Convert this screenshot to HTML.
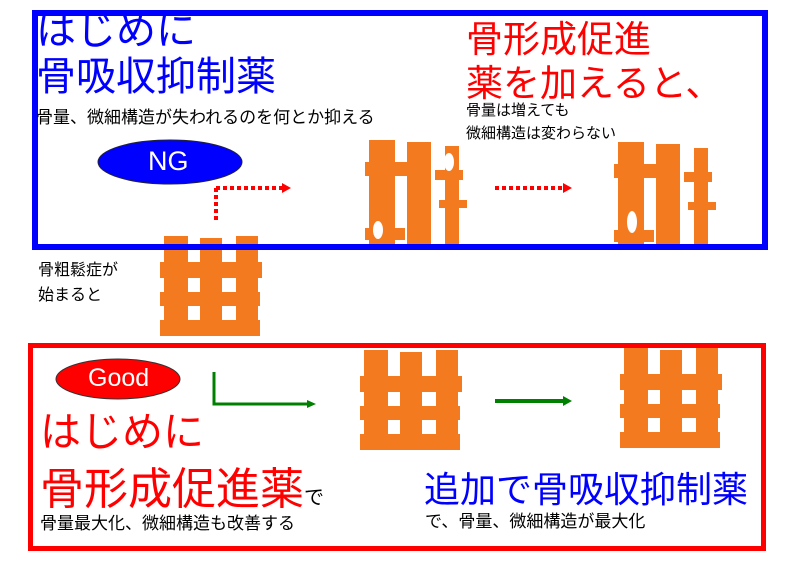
<!DOCTYPE html>
<html><head><meta charset="utf-8"><style>
html,body{margin:0;padding:0;background:#fff;}
body{width:800px;height:566px;position:relative;overflow:hidden;font-family:"Liberation Sans","Noto Sans CJK JP",sans-serif;}
.t{position:absolute;white-space:nowrap;line-height:1;}
</style></head><body>
<svg width="800" height="566" style="position:absolute;left:0;top:0">
<defs>
<g id="full">
<rect x="4" y="0" width="24" height="100" fill="#f47a20"/>
<rect x="40" y="2" width="22" height="98" fill="#f47a20"/>
<rect x="76" y="0" width="22" height="100" fill="#f47a20"/>
<rect x="0" y="26" width="102" height="16" fill="#f47a20"/>
<rect x="0" y="56" width="100" height="14" fill="#f47a20"/>
<rect x="0" y="84" width="100" height="16" fill="#f47a20"/>
</g>
<g id="broken">
<rect x="4" y="0" width="26" height="108" fill="#f47a20"/>
<rect x="42" y="2" width="24" height="106" fill="#f47a20"/>
<rect x="80" y="6" width="14" height="100" fill="#f47a20"/>
<rect x="0" y="22" width="66" height="14" fill="#f47a20"/>
<rect x="0" y="88" width="40" height="12" fill="#f47a20"/>
<rect x="70" y="30" width="28" height="10" fill="#f47a20"/>
<rect x="74" y="60" width="28" height="8" fill="#f47a20"/>
</g>
</defs>
<use href="#broken" x="365" y="140"/>
<ellipse cx="449" cy="162" rx="5" ry="9" fill="#fff"/>
<ellipse cx="378" cy="230" rx="5" ry="9" fill="#fff"/>
<use href="#broken" x="614" y="142"/>
<ellipse cx="632" cy="222" rx="5" ry="11" fill="#fff"/>
<use href="#full" x="160" y="236"/>
<use href="#full" x="360" y="350"/>
<use href="#full" x="620" y="348"/>
<rect x="35" y="13" width="730" height="234" fill="none" stroke="#0000ff" stroke-width="6"/>
<rect x="30.5" y="345.5" width="733" height="203" fill="none" stroke="#ff0000" stroke-width="5"/>
<ellipse cx="170" cy="162" rx="72" ry="22" fill="#0000ff" stroke="#223" stroke-width="1"/>
<ellipse cx="118" cy="379" rx="62" ry="20" fill="#ff0000" stroke="#333" stroke-width="1"/>
<g stroke="#ff0000" stroke-width="4" stroke-dasharray="4,3" fill="none">
<line x1="216" y1="220" x2="216" y2="188"/>
<line x1="216" y1="188" x2="282" y2="188"/>
<line x1="495" y1="188" x2="563" y2="188"/>
</g>
<polygon points="282,183 291,188 282,193" fill="#ff0000"/>
<polygon points="563,183 572,188 563,193" fill="#ff0000"/>
<polyline points="214,372 214,404 308,404" fill="none" stroke="#008000" stroke-width="3"/>
<polygon points="307,400 316,404 307,408" fill="#008000"/>
<line x1="495" y1="401" x2="564" y2="401" stroke="#008000" stroke-width="4"/>
<polygon points="563,396 572,401 563,406" fill="#008000"/>
</svg>
<div class="t" style="left:36px;top:11px;font-size:40px;color:#0000ff">はじめに</div>
<div class="t" style="left:36px;top:57px;font-size:40px;color:#0000ff">骨吸収抑制薬</div>
<div class="t" style="left:36px;top:109px;font-size:17px;color:#000">骨量、微細構造が失われるのを何とか抑える</div>
<div class="t" style="left:148px;top:148px;font-size:27px;color:#fff">NG</div>
<div class="t" style="left:466px;top:21px;font-size:37px;color:#ff0000">骨形成促進</div>
<div class="t" style="left:466px;top:65px;font-size:37px;color:#ff0000">薬を加えると、</div>
<div class="t" style="left:466px;top:103px;font-size:15px;color:#000">骨量は増えても</div>
<div class="t" style="left:466px;top:126px;font-size:15px;color:#000">微細構造は変わらない</div>
<div class="t" style="left:38px;top:263px;font-size:16px;color:#000">骨粗鬆症が</div>
<div class="t" style="left:38px;top:288px;font-size:16px;color:#000">始まると</div>
<div class="t" style="left:88px;top:366px;font-size:25px;color:#fff">Good</div>
<div class="t" style="left:40px;top:412px;font-size:41px;color:#ff0000">はじめに</div>
<div class="t" style="left:40px;top:468px;font-size:44px;color:#ff0000">骨形成促進薬<span style="font-size:20px;color:#000">で</span></div>
<div class="t" style="left:40px;top:515px;font-size:17px;color:#000">骨量最大化、微細構造も改善する</div>
<div class="t" style="left:424px;top:472px;font-size:36px;color:#0000ff">追加で骨吸収抑制薬</div>
<div class="t" style="left:425px;top:513px;font-size:17px;color:#000">で、骨量、微細構造が最大化</div>
</body></html>
